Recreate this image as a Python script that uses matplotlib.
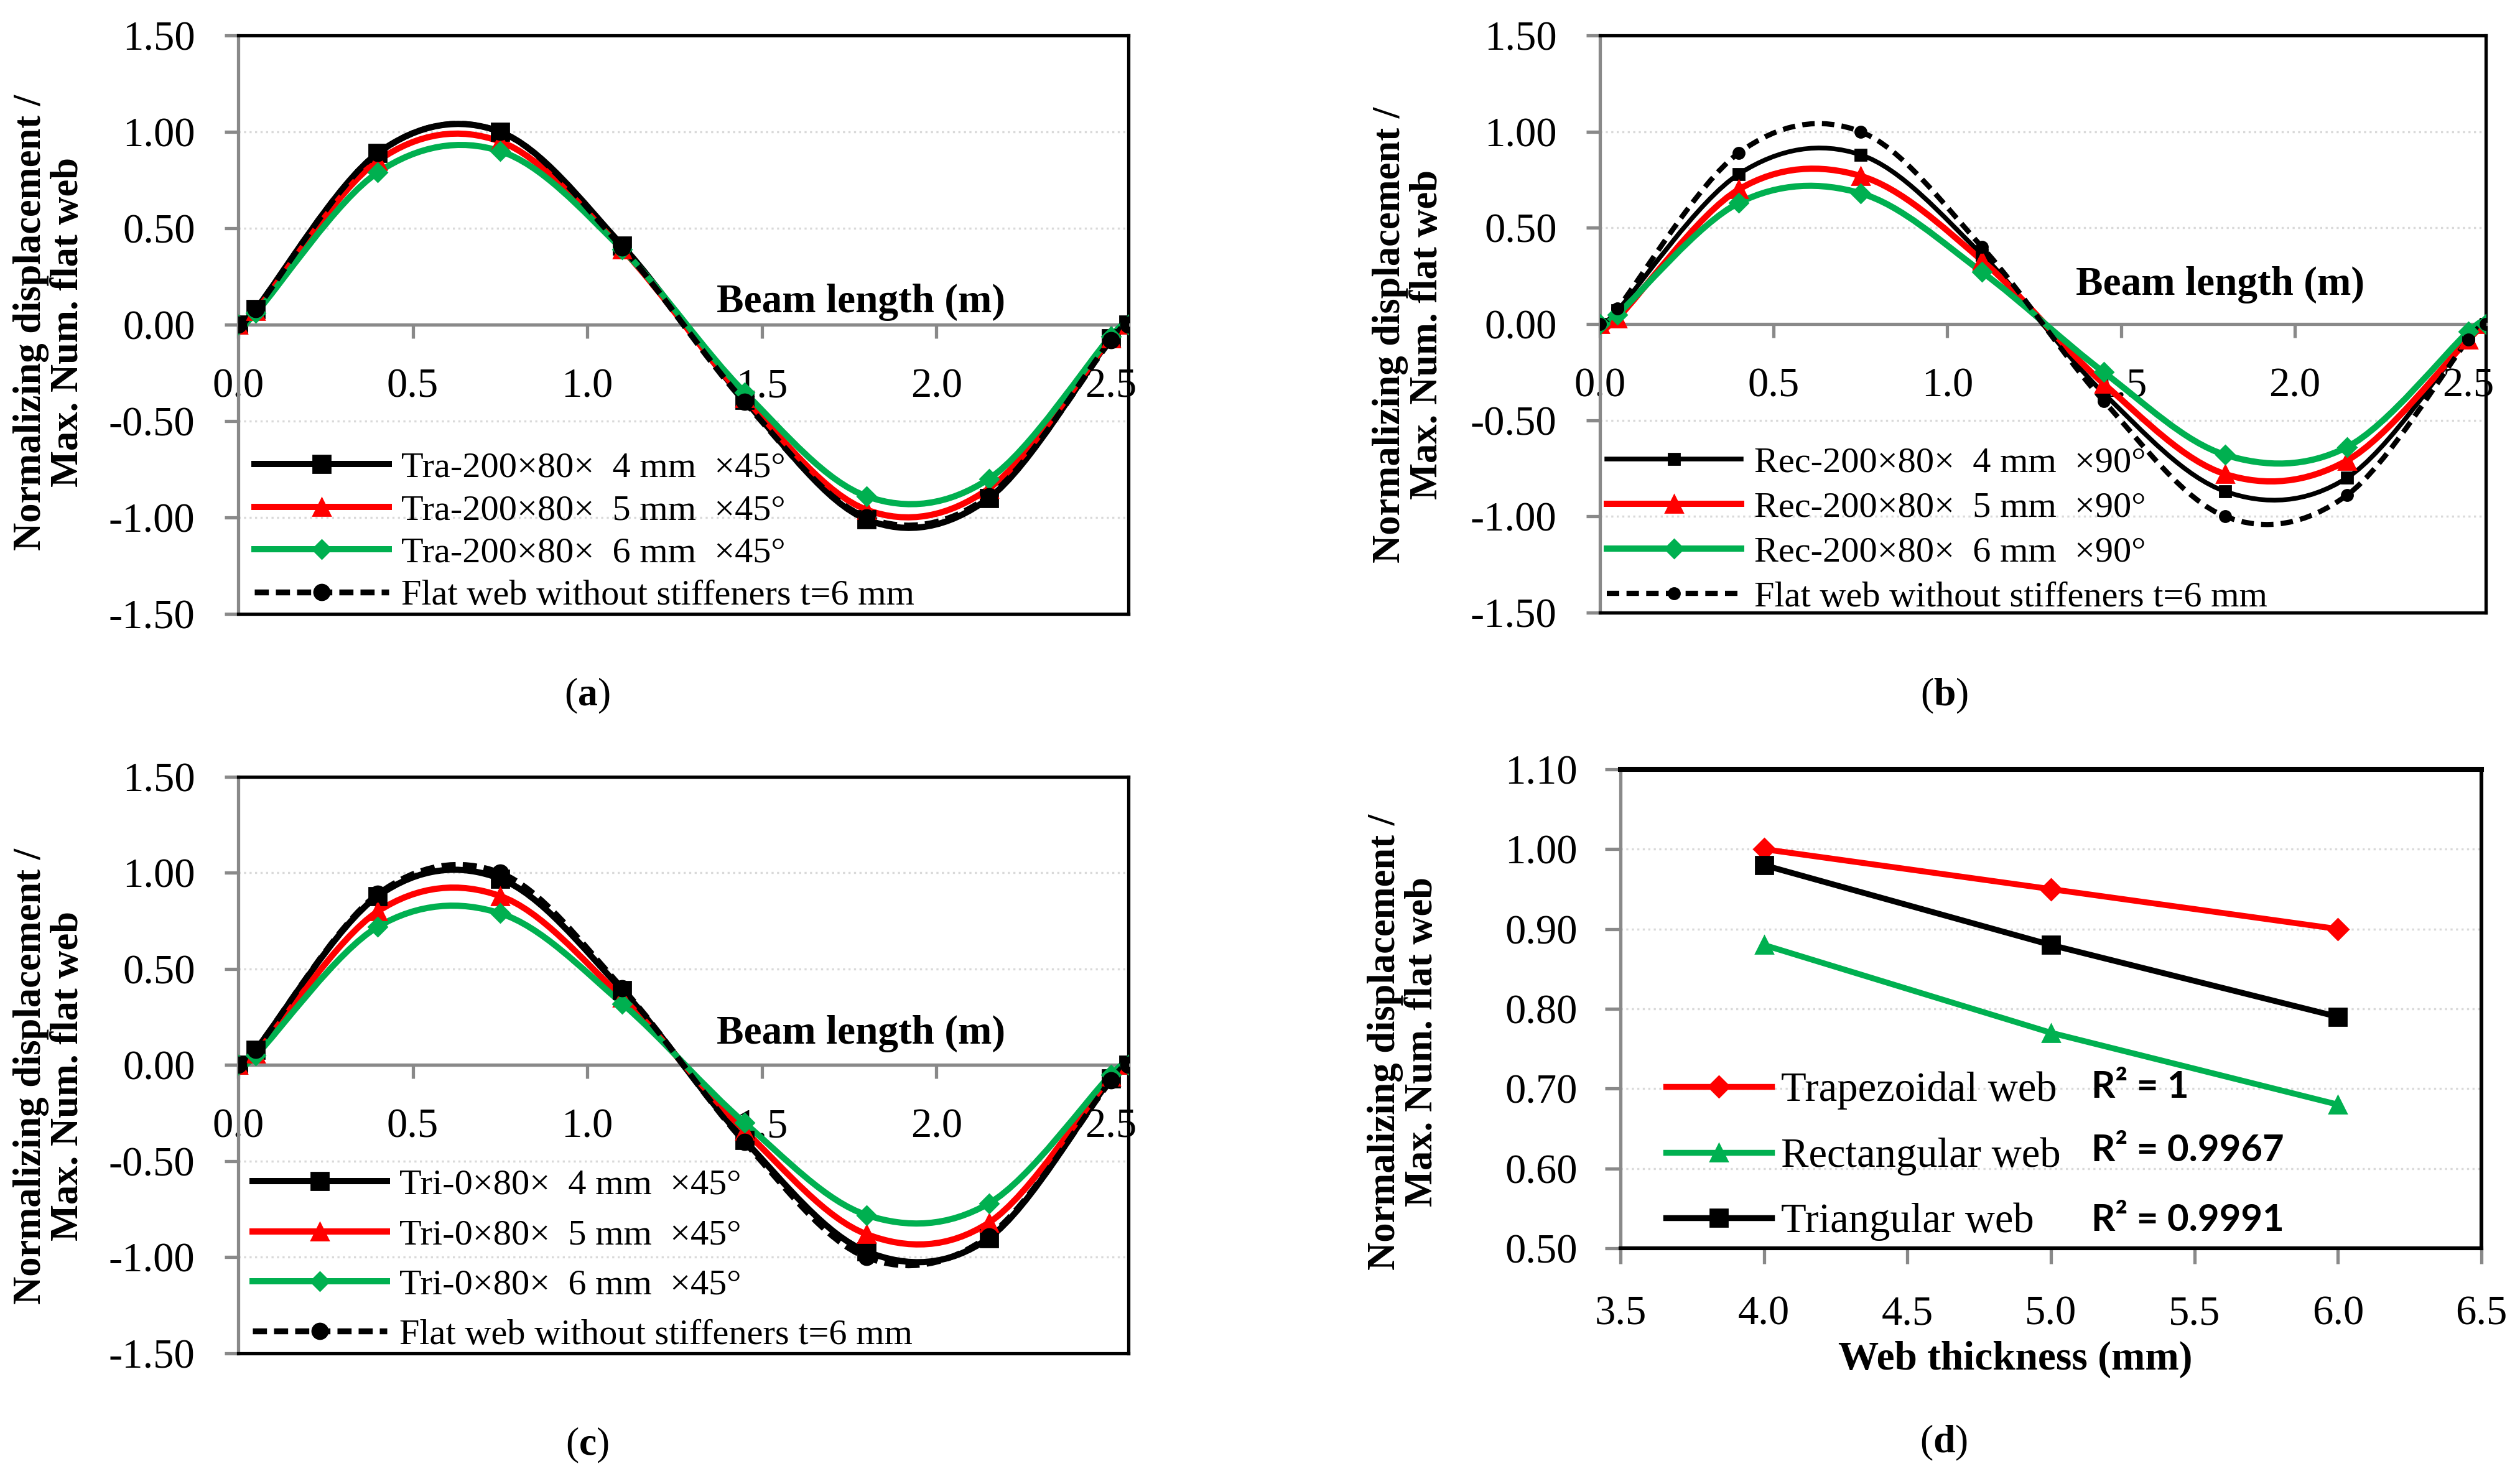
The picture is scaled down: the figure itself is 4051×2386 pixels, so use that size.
import numpy as np
import matplotlib
matplotlib.use("Agg")
import matplotlib.pyplot as plt
from matplotlib.path import Path
from matplotlib.patches import PathPatch
from matplotlib.lines import Line2D

plt.rcParams['font.family'] = ['Liberation Serif', 'DejaVu Serif']
plt.rcParams['mathtext.fontset'] = 'custom'
plt.rcParams['mathtext.rm'] = 'Liberation Serif'
plt.rcParams['mathtext.bf'] = 'Liberation Serif:bold'

# ---- data ----
beam_x = [0, 0.05, 0.4, 0.75, 1.1, 1.45, 1.8, 2.15, 2.5, 2.55]
flat = [0, 0.08, 0.89, 1.00, 0.40, -0.40, -1.00, -0.89, -0.08, 0]

tra4 = [0, 0.08, 0.89, 1.00, 0.41, -0.39, -1.01, -0.90, -0.07, 0]
tra5 = [0, 0.07, 0.85, 0.95, 0.39, -0.38, -0.96, -0.85, -0.07, 0]
tra6 = [0, 0.06, 0.79, 0.90, 0.39, -0.35, -0.89, -0.80, -0.06, 0]

rec4 = [0, 0.07, 0.78, 0.88, 0.36, -0.36, -0.87, -0.80, -0.07, 0]
rec5 = [0, 0.03, 0.70, 0.77, 0.33, -0.31, -0.78, -0.71, -0.08, 0]
rec6 = [0, 0.05, 0.63, 0.68, 0.27, -0.25, -0.68, -0.64, -0.04, 0]

tri4 = [0, 0.08, 0.88, 0.97, 0.39, -0.39, -0.97, -0.90, -0.07, 0]
tri5 = [0, 0.06, 0.80, 0.88, 0.35, -0.34, -0.88, -0.82, -0.06, 0]
tri6 = [0, 0.05, 0.72, 0.79, 0.32, -0.30, -0.78, -0.72, -0.05, 0]

thick = [4, 5, 6]
trap = [1.00, 0.95, 0.90]
rect = [0.88, 0.77, 0.68]
tria = [0.98, 0.88, 0.79]
r2_text = ["R² = 1", "R² = 0.9967", "R² = 0.9991"]

labels_a = ["Tra-200×80×  4 mm  ×45°", "Tra-200×80×  5 mm  ×45°",
            "Tra-200×80×  6 mm  ×45°", "Flat web without stiffeners t=6 mm"]
labels_b = ["Rec-200×80×  4 mm  ×90°", "Rec-200×80×  5 mm  ×90°",
            "Rec-200×80×  6 mm  ×90°", "Flat web without stiffeners t=6 mm"]
labels_c = ["Tri-0×80×  4 mm  ×45°", "Tri-0×80×  5 mm  ×45°",
            "Tri-0×80×  6 mm  ×45°", "Flat web without stiffeners t=6 mm"]
labels_d = ["Trapezoidal web", "Rectangular web", "Triangular web"]

BLACK, RED, GREEN, GRAY = "#000000", "#FF0000", "#00B050", "#898989"
W, H = 4051, 2386

fig = plt.figure(figsize=(W / 200, H / 200), dpi=200)


def box(l, r, t, b):
    return [l / W, 1 - b / H, (r - l) / W, (b - t) / H]


def smooth_path(x, y):
    # Excel style smoothed line: cubic bezier through the points
    p = np.column_stack([x, y]).astype(float)
    p = np.vstack([p[0], p, p[-1]])
    verts = [p[1]]
    codes = [Path.MOVETO]
    for i in range(1, len(p) - 2):
        c1 = p[i] + (p[i + 1] - p[i - 1]) / 6
        c2 = p[i + 1] - (p[i + 2] - p[i]) / 6
        verts += [c1, c2, p[i + 1]]
        codes += [Path.CURVE4] * 3
    return Path(verts, codes)


def draw_series(ax, y, color, marker, ms, lw, ls="-"):
    ax.add_patch(PathPatch(smooth_path(beam_x, y), facecolor="none", edgecolor=color,
                           lw=lw, ls=ls, capstyle="butt", joinstyle="round", zorder=3))
    ax.plot(beam_x, y, ls="none", marker=marker, ms=ms, color=color, mec=color, zorder=4)
    return Line2D([], [], color=color, lw=lw, ls=ls, marker=marker, ms=ms, mec=color)


def beam_panel(ax, series, labels, leg_x, leg_y, leg_sp, text_y):
    handles = [draw_series(ax, *s) for s in series]
    ax.set_xlim(0, 2.55)
    ax.set_ylim(-1.5, 1.5)
    ax.set_xticks([0, 0.5, 1.0, 1.5, 2.0, 2.5])
    ax.set_xticklabels([f"{v:.1f}" for v in [0, 0.5, 1.0, 1.5, 2.0, 2.5]])
    yt = [1.5, 1.0, 0.5, 0.0, -0.5, -1.0, -1.5]
    ax.set_yticks(yt)
    ax.set_yticklabels([f"{v:.2f}" for v in yt])
    ax.spines["bottom"].set_position(("data", 0))
    for s in ["bottom", "left"]:
        ax.spines[s].set_color(GRAY)
        ax.spines[s].set_linewidth(1.9)
    for s in ["top", "right"]:
        ax.spines[s].set_color(BLACK)
        ax.spines[s].set_linewidth(1.9)
    ax.plot([0, 1], [0, 0], transform=ax.transAxes, color=BLACK, lw=1.9, clip_on=False, zorder=5)
    ax.tick_params(axis="both", colors=GRAY, labelcolor=BLACK, width=1.9, length=8,
                   labelsize=24)
    ax.tick_params(axis="y", pad=17)
    ax.tick_params(axis="x", pad=17)
    ax.grid(axis="y", color="#D9D9D9", ls=":", lw=1.2)
    ax.set_axisbelow(True)
    ax.text(1.37, text_y, "Beam length (m)", fontsize=23.5, fontweight="bold", va="center")
    ax.legend(handles, labels, loc="center left", bbox_to_anchor=(leg_x, leg_y),
              frameon=False, borderpad=0, borderaxespad=0, handlelength=3.7,
              handletextpad=0.35, labelspacing=leg_sp, fontsize=21)


def ylabel(x, y):
    fig.text(x / W, 1 - y / H, "Normalizing displacement /\nMax. Num. flat web",
             rotation=90, ha="center", va="center", multialignment="center",
             fontsize=22.5, fontweight="bold", linespacing=1.05)


def caption(x, y, letter):
    fig.text(x / W, 1 - y / H, "($\\mathbf{" + letter + "}$)", ha="center", va="center",
             fontsize=23)


# (a)
ax_a = fig.add_axes(box(383, 1814, 57, 987))
beam_panel(ax_a, [(tra4, BLACK, "s", 10, 3.6), (tra5, RED, "^", 10, 3.6),
                  (tra6, GREEN, "D", 7.5, 3.6), (flat, BLACK, "o", 9, 3.4, (0, (2.4, 1.2)))],
           labels_a, 0.018, 0.142, 0.27, 0.115)
ylabel(80, 518)
caption(944, 1119, "a")

# (b)
ax_b = fig.add_axes(box(2572, 3996, 57, 985))
beam_panel(ax_b, [(rec4, BLACK, "s", 6.5, 2.7), (rec5, RED, "^", 10, 3.6),
                  (rec6, GREEN, "D", 7.5, 3.6), (flat, BLACK, "o", 6.5, 3.0, (0, (2.4, 1.4)))],
           labels_b, 0.008, 0.143, 0.33, 0.205)
ylabel(2265, 538)
caption(3126, 1119, "b")

# (c)
ax_c = fig.add_axes(box(383, 1814, 1249, 2176))
beam_panel(ax_c, [(tri4, BLACK, "s", 10, 3.6), (tri5, RED, "^", 10, 3.6),
                  (tri6, GREEN, "D", 7.5, 3.6), (flat, BLACK, "o", 9, 3.4, (0, (2.4, 1.2)))],
           labels_c, 0.016, 0.162, 0.47, 0.165)
ylabel(80, 1730)
caption(944, 2324, "c")

# (d)
ax_d = fig.add_axes(box(2605, 3989, 1237, 2007))
hd = []
for vals, col, mk, ms in [(trap, RED, "D", 8.5), (rect, GREEN, "^", 10), (tria, BLACK, "s", 10)]:
    hd += ax_d.plot(thick, vals, color=col, marker=mk, ms=ms, lw=3.4, mec=col)
ax_d.set_xlim(3.5, 6.5)
ax_d.set_ylim(0.5, 1.1)
xt = [3.5, 4.0, 4.5, 5.0, 5.5, 6.0, 6.5]
ax_d.set_xticks(xt)
ax_d.set_xticklabels([f"{v:.1f}" for v in xt])
ytd = [0.5, 0.6, 0.7, 0.8, 0.9, 1.0, 1.1]
ax_d.set_yticks(ytd)
ax_d.set_yticklabels([f"{v:.2f}" for v in ytd])
ax_d.spines["left"].set_color(GRAY)
ax_d.spines["left"].set_linewidth(1.9)
ax_d.spines["bottom"].set_color(BLACK)
ax_d.spines["bottom"].set_linewidth(2.2)
ax_d.spines["top"].set_color(BLACK)
ax_d.spines["top"].set_linewidth(2.9)
ax_d.spines["right"].set_color(BLACK)
ax_d.spines["right"].set_linewidth(2.2)
ax_d.tick_params(axis="both", colors=GRAY, labelcolor=BLACK, width=1.9, length=9,
                 labelsize=24)
ax_d.tick_params(axis="y", pad=16)
ax_d.tick_params(axis="x", pad=18)
ax_d.grid(axis="y", color="#D9D9D9", ls=":", lw=1.2)
ax_d.set_axisbelow(True)
ax_d.legend(hd, labels_d, loc="center left", bbox_to_anchor=(0.053, 0.192), frameon=False,
            borderpad=0, borderaxespad=0, handlelength=2.55, handletextpad=0.22,
            labelspacing=0.66, fontsize=24)
for txt, yv in zip(r2_text, [0.702, 0.622, 0.535]):
    ax_d.text(5.14, yv, txt, fontsize=21.5, fontweight="bold", family=["Lato", "DejaVu Sans"],
              va="center")
fig.text(3240 / W, 1 - 2186 / H, "Web thickness (mm)", ha="center", va="center",
         fontsize=23.5, fontweight="bold")
ylabel(2257, 1675)
caption(3125, 2320, "d")

fig.savefig("out.png", dpi=200)
